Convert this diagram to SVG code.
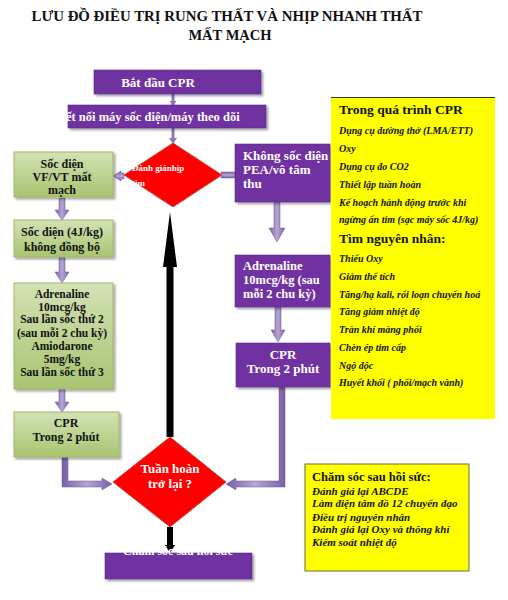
<svg xmlns="http://www.w3.org/2000/svg" width="508" height="600" viewBox="0 0 508 600">
<defs>
<linearGradient id="gr" x1="0" y1="0" x2="0" y2="1">
<stop offset="0" stop-color="#D3E2B4"/>
<stop offset="1" stop-color="#A8C470"/>
</linearGradient>
<linearGradient id="ah" x1="0" y1="0" x2="1" y2="0">
<stop offset="0" stop-color="#7A5FA6"/>
<stop offset="0.5" stop-color="#B7A6D2"/>
<stop offset="1" stop-color="#7A5FA6"/>
</linearGradient>
<linearGradient id="av" x1="0" y1="0" x2="0" y2="1">
<stop offset="0" stop-color="#7A5FA6"/>
<stop offset="0.5" stop-color="#B7A6D2"/>
<stop offset="1" stop-color="#7A5FA6"/>
</linearGradient>
<filter id="sh" x="-10%" y="-10%" width="130%" height="130%">
<feDropShadow dx="2" dy="2" stdDeviation="1.2" flood-color="#000" flood-opacity="0.35"/>
</filter>
</defs>
<style>
.t{font-family:"Liberation Serif","Times New Roman",serif;font-weight:bold}
.w{fill:#fff}
.k{fill:#111}
.it{font-style:italic}
.pu{fill:#7030A0;stroke:#5A2A85;stroke-width:0.6}
.gn{fill:url(#gr);stroke:#9DB86A;stroke-width:1}
.rd{fill:#FF0000;stroke:#C0504D;stroke-width:1}
.yl{fill:#FFFF00}
</style>
<rect width="508" height="600" fill="#fff"/>

<g id="title">
<text class="t k" x="227" y="21" font-size="14.5" text-anchor="middle" textLength="391" lengthAdjust="spacingAndGlyphs">LƯU ĐỒ ĐIỀU TRỊ RUNG THẤT VÀ NHỊP NHANH THẤT</text>
<text class="t k" x="230" y="40" font-size="14.5" text-anchor="middle">MẤT MẠCH</text>
</g>

<g id="connectors">
<rect x="171.5" y="94" width="3" height="11" fill="#8E78B8"/>
<path d="M169.5,101 L176.5,101 L173,106 Z" fill="#8E78B8"/>
<rect x="171.5" y="128" width="3" height="13" fill="#8E78B8"/>
<path d="M169,138 L177,138 L173,144 Z" fill="#8E78B8"/>
<path d="M124,173 L121,173 L121,171 L113,176 L121,181 L121,179 L124,179 Z" fill="url(#av)" stroke="#6E569A" stroke-width="0.5"/>
<rect x="221" y="172" width="14" height="6" fill="url(#av)" stroke="#6E569A" stroke-width="0.5"/>
<path d="M59,198 L65,198 L65,210 L69,210 L62,220 L55,210 L59,210 Z" fill="url(#ah)" stroke="#6E569A" stroke-width="0.5"/>
<path d="M59,257 L65,257 L65,272 L69,272 L62,283 L55,272 L59,272 Z" fill="url(#ah)" stroke="#6E569A" stroke-width="0.5"/>
<path d="M59,389 L65,389 L65,402 L69,402 L62,412 L55,402 L59,402 Z" fill="url(#ah)" stroke="#6E569A" stroke-width="0.5"/>
<path d="M274,202 L280,202 L280,228 L285,228 L277,242 L269,228 L274,228 Z" fill="url(#ah)" stroke="#6E569A" stroke-width="0.5"/>
<path d="M275,307 L281,307 L281,330 L285,330 L278,342 L271,330 L275,330 Z" fill="url(#ah)" stroke="#6E569A" stroke-width="0.5"/>
<path d="M62,457 L68,457 L68,481 L102,481 L102,478 L112,484 L102,490 L102,487 L62,487 Z" fill="url(#ah)" stroke="#6E569A" stroke-width="0.5"/>
<path d="M279,387 L285,387 L285,487 L236,487 L236,490 L226,484 L236,478 L236,481 L279,481 Z" fill="url(#ah)" stroke="#6E569A" stroke-width="0.5"/>
<path d="M166.5,437 L173.5,437 L173.5,267 L177,267 L170,212 L163,267 L166.5,267 Z" fill="#000"/>
<path d="M167,527 L173,527 L173,545 L175,545 L170,553 L165,545 L167,545 Z" fill="#000"/>
</g>

<g id="start">
<rect class="pu" x="94" y="70" width="167" height="24" filter="url(#sh)"/>
<text class="t w" x="158" y="87" font-size="13" text-anchor="middle">Bắt đầu CPR</text>
</g>

<g id="connect">
<rect class="pu" x="68" y="105" width="198" height="23" filter="url(#sh)"/>
<text class="t w" x="66" y="121" font-size="12.5">ết nối máy sốc điện/máy theo dõi</text>
</g>

<g id="assess">
<path class="rd" d="M173,143 L222,175 L173,207 L124,175 Z"/>
<text class="t w" x="132" y="171" font-size="9">Đánh giánhịp</text>
<text class="t w" x="132" y="186" font-size="9">tim</text>
</g>

<g id="shock">
<rect class="gn" x="14" y="152" width="99" height="45" filter="url(#sh)"/>
<text class="t k" x="62" y="168" font-size="12" text-anchor="middle">Sốc điện</text>
<text class="t k" x="62" y="181" font-size="12" text-anchor="middle">VF/VT mất</text>
<text class="t k" x="62" y="194" font-size="12" text-anchor="middle">mạch</text>
</g>

<g id="shock4j">
<rect class="gn" x="14" y="220" width="99" height="37" filter="url(#sh)"/>
<text class="t k" x="62" y="236" font-size="12" text-anchor="middle">Sốc điện (4J/kg)</text>
<text class="t k" x="62" y="251" font-size="12" text-anchor="middle">không đồng bộ</text>
</g>

<g id="drugs">
<rect class="gn" x="14" y="283" width="99" height="106" filter="url(#sh)"/>
<text class="t k" x="62" y="298" font-size="11.5" text-anchor="middle">Adrenaline</text>
<text class="t k" x="62" y="311" font-size="11.5" text-anchor="middle">10mcg/kg</text>
<text class="t k" x="62" y="323" font-size="11.5" text-anchor="middle">Sau lần sốc thứ 2</text>
<text class="t k" x="62" y="337" font-size="11.5" text-anchor="middle">(sau mỗi 2 chu kỳ)</text>
<text class="t k" x="62" y="350" font-size="11.5" text-anchor="middle">Amiodarone</text>
<text class="t k" x="62" y="363" font-size="11.5" text-anchor="middle">5mg/kg</text>
<text class="t k" x="62" y="376" font-size="11.5" text-anchor="middle">Sau lần sốc thứ 3</text>
</g>

<g id="cprLeft">
<rect class="gn" x="14" y="412" width="105" height="45" filter="url(#sh)"/>
<text class="t k" x="66" y="427" font-size="12" text-anchor="middle">CPR</text>
<text class="t k" x="66" y="441" font-size="12" text-anchor="middle">Trong 2 phút</text>
</g>

<g id="noShock">
<rect class="pu" x="235" y="144" width="95" height="58" filter="url(#sh)"/>
<text class="t w" x="243" y="160" font-size="13">Không sốc điện</text>
<text class="t w" x="243" y="174" font-size="13">PEA/vô tâm</text>
<text class="t w" x="243" y="188" font-size="13">thu</text>
</g>

<g id="adrenRight">
<rect class="pu" x="235" y="255" width="95" height="52" filter="url(#sh)"/>
<text class="t w" x="243" y="270" font-size="12.5">Adrenaline</text>
<text class="t w" x="243" y="284" font-size="12.5">10mcg/kg (sau</text>
<text class="t w" x="243" y="298" font-size="12.5">mỗi 2 chu kỳ)</text>
</g>

<g id="cprRight">
<rect class="pu" x="236" y="343" width="94" height="44" filter="url(#sh)"/>
<text class="t w" x="283" y="359" font-size="13" text-anchor="middle">CPR</text>
<text class="t w" x="283" y="373" font-size="13" text-anchor="middle">Trong 2 phút</text>
</g>

<g id="rosc">
<path class="rd" d="M170,437 L226,482 L170,527 L113,482 Z"/>
<text class="t w" x="170" y="473" font-size="13" text-anchor="middle">Tuần hoàn</text>
<text class="t w" x="170" y="488" font-size="13" text-anchor="middle">trở lại ?</text>
</g>

<g id="postCare">
<rect class="pu" x="105" y="553" width="147" height="26" filter="url(#sh)"/>
<text class="t w" x="178" y="555" font-size="12" text-anchor="middle">Chăm sóc sau hồi sức</text>
</g>

<g id="duringCPR">
<rect class="yl" x="331" y="97" width="164" height="322"/>
<line x1="331" y1="97.5" x2="495" y2="97.5" stroke="#333" stroke-width="1"/>
<text class="t k" x="339" y="114" font-size="13.5">Trong quá trình CPR</text>
<g class="t k it" font-size="10">
<text x="339" y="134">Dụng cụ đường thở (LMA/ETT)</text>
<text x="339" y="152">Oxy</text>
<text x="339" y="170">Dụng cụ đo CO2</text>
<text x="339" y="188">Thiết lập tuần hoàn</text>
<text x="339" y="206">Kế hoạch hành động trước khi</text>
<text x="339" y="223">ngừng ấn tim (sạc máy sốc  4J/kg)</text>
</g>
<text class="t k" x="339" y="243" font-size="13.5">Tìm nguyên nhân:</text>
<g class="t k it" font-size="10">
<text x="339" y="262">Thiếu Oxy</text>
<text x="339" y="280">Giảm thể tích</text>
<text x="339" y="298">Tăng/hạ kali, rối loạn chuyển hoá</text>
<text x="339" y="315">Tăng giảm nhiệt độ</text>
<text x="339" y="333">Tràn khí màng phổi</text>
<text x="339" y="351">Chèn ép tim cấp</text>
<text x="339" y="369">Ngộ độc</text>
<text x="339" y="386">Huyết khối ( phổi/mạch vành)</text>
</g>
</g>

<g id="postCareBox">
<rect class="yl" x="305" y="464" width="164" height="107" stroke="#6B6B3A" stroke-width="1"/>
<text class="t k" x="312" y="481" font-size="12.5">Chăm sóc sau hồi sức:</text>
<g class="t k it" font-size="11">
<text x="312" y="495">Đánh giá lại ABCDE</text>
<text x="312" y="507">Làm điện tâm đồ 12 chuyển đạo</text>
<text x="312" y="521">Điều trị nguyên nhân</text>
<text x="312" y="533">Đánh giá lại Oxy và thông khí</text>
<text x="312" y="546">Kiểm soát nhiệt độ</text>
</g>
</g>
</svg>
